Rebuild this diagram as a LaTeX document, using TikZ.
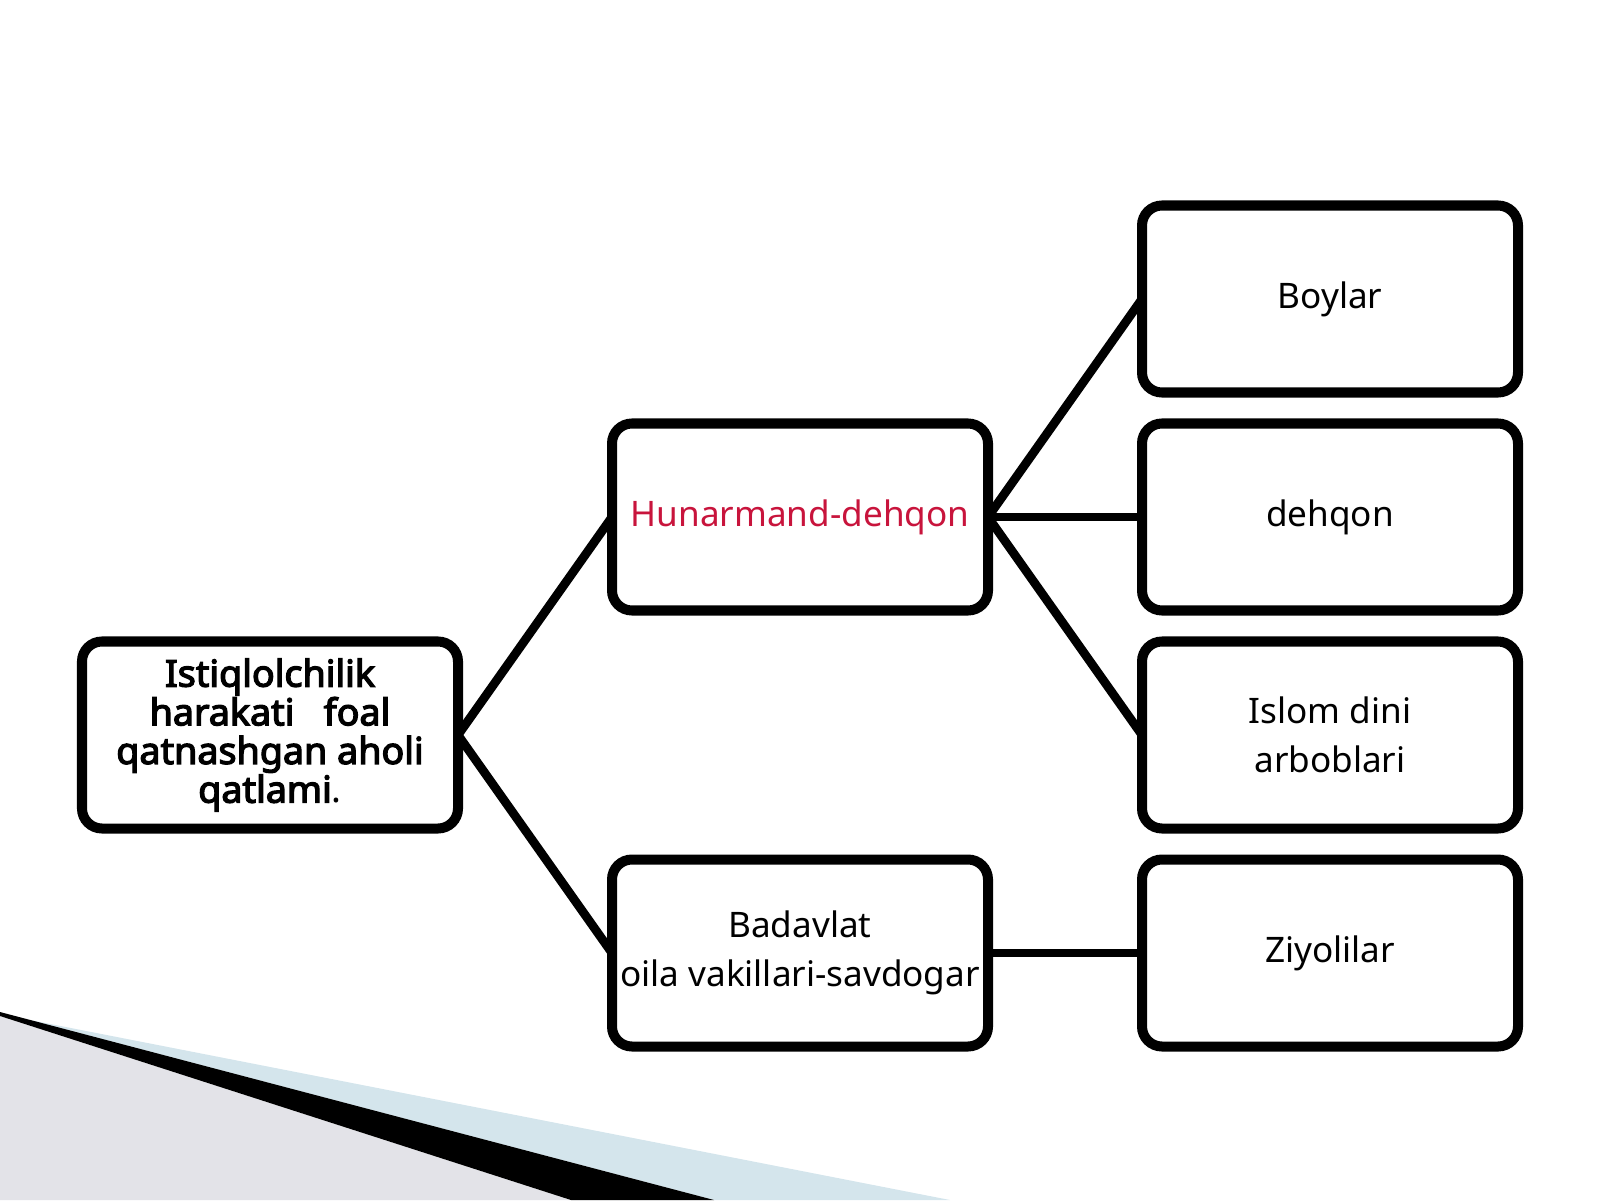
\documentclass[tikz,border=0pt]{standalone}
\usepackage{fontspec}
\setmainfont{Noto Sans}
\newfontfamily\rootfont[FakeBold=3.5, FakeStretch=1.02]{Noto Sans}
\usepackage{xcolor}
\usepackage{tikz}
\usetikzlibrary{positioning}
\definecolor{hunarred}{RGB}{200,20,60}
\definecolor{swooshgray}{RGB}{227,227,232}
\definecolor{swooshblue}{RGB}{212,229,236}
\tikzstyle{block} = [rectangle, rounded corners=0.2cm, minimum width=3.76cm, minimum height=1.87cm, inner xsep=0pt, outer sep=0pt, text centered, align=center, draw=black, line width=2.85pt, font=\fontsize{10}{14}\selectfont]
\tikzstyle{rootblock} = [block, font=\fontsize{10.5}{11}\selectfont]
\tikzstyle{link} = [line width=2.5pt]

\begin{document}
\begin{tikzpicture}[node distance=0.31cm and 1.54cm]
    \useasboundingbox (0,0) rectangle (16,12);
    % Swoosh
    \fill[swooshgray] (0,1.84) -- (5.71,0) -- (0,0) -- cycle;
    \fill[swooshblue] (0.3,1.80) -- (9.5,0) -- (7.14,0) -- cycle;
    \fill[black] (0,1.88) -- (7.14,0) -- (5.71,0) -- (0,1.84) -- cycle;
    % Nodes
    \node (root) [rootblock] at (2.70,4.65) {{\rootfont Istiqlolchilik}\\ {\rootfont harakati\ \ \ foal}\\ {\rootfont qatnashgan aholi}\\ {\rootfont qatlami}.};
    \node (hunar) [block, above right=of root] {\textcolor{hunarred}{Hunarmand-dehqon}};
    \node (badav) [block, below right=of root] {Badavlat\\oila vakillari-savdogar};
    \node (dehqon) [block, right=of hunar] {dehqon};
    \node (boylar) [block, above=of dehqon] {Boylar};
    \node (islom) [block, below=of dehqon] {Islom dini\\arboblari};
    \node (ziyo) [block, below=of islom] {Ziyolilar};
    % Lines
    \draw [link] (root.east) -- (hunar.west);
    \draw [link] (root.east) -- (badav.west);
    \draw [link] (hunar.east) -- (boylar.west);
    \draw [link] (hunar.east) -- (dehqon.west);
    \draw [link] (hunar.east) -- (islom.west);
    \draw [link] (badav.east) -- (ziyo.west);
\end{tikzpicture}
\end{document}
